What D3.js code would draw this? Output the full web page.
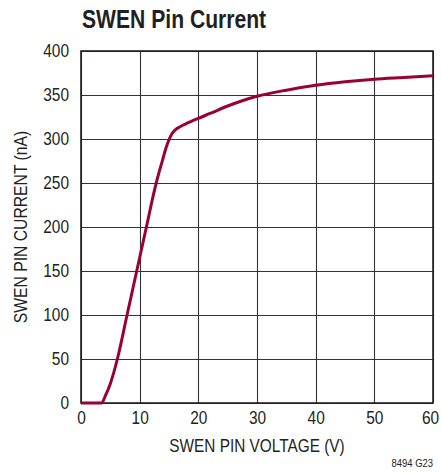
<!DOCTYPE html>
<html>
<head>
<meta charset="utf-8">
<script src="https://cdn.jsdelivr.net/npm/d3@7"></script>
<style>
  html, body { margin: 0; padding: 0; background: #fff; }
  svg { display: block; }
  text { font-family: "Liberation Sans", Arial, Helvetica, sans-serif; fill: #231f20; }
</style>
</head>
<body>
<svg id="chart" width="441" height="473"></svg>
<script>
// Data
const voltage = [0, 3.5, 4.2, 5, 6.2, 7.85, 9.5, 11.15, 12.6, 13.3, 13.9, 14.5, 15.05, 15.5, 16, 16.9, 17.8, 20, 22, 25, 27.5, 30, 35, 40, 45, 50, 55, 60];
const current = [0, 0, 9, 22, 50, 100, 150, 200, 244, 262, 276, 290, 300, 306, 310, 314, 317, 323.5, 329, 337.5, 343.5, 348.5, 355.5, 361, 365, 368, 370, 372];
const xTicks = [0, 10, 20, 30, 40, 50, 60];
const yTicks = [0, 50, 100, 150, 200, 250, 300, 350, 400];
const titleText = "SWEN Pin Current";
const xTitle = "SWEN PIN VOLTAGE (V)";
const yTitle = "SWEN PIN CURRENT (nA)";
const noteText = "8494 G23";

const svg = d3.select("#chart");
const L = 81, R = 433, T = 51, B = 403;
const SX = 0.86; // horizontal condensing to mimic a condensed face

const x = d3.scaleLinear().domain([0, 60]).range([L, R]);
const y = d3.scaleLinear().domain([0, 400]).range([B, T]);

// grid
const grid = svg.append("g");
grid.selectAll("line.v").data(xTicks).join("line")
  .attr("x1", d => Math.round(x(d)) + 0.5).attr("x2", d => Math.round(x(d)) + 0.5)
  .attr("y1", T).attr("y2", B)
  .attr("stroke", "#333").attr("stroke-width", 1.1);
grid.selectAll("line.h").data(yTicks).join("line")
  .attr("y1", d => Math.round(y(d)) + 0.5).attr("y2", d => Math.round(y(d)) + 0.5)
  .attr("x1", L).attr("x2", R)
  .attr("stroke", "#333").attr("stroke-width", 1.1);

// frame
svg.append("rect")
  .attr("x", L).attr("y", T).attr("width", R - L).attr("height", B - T)
  .attr("fill", "none").attr("stroke", "#231f20").attr("stroke-width", 1.6);

// axes (labels only)
const xAxis = d3.axisBottom(x).tickValues(xTicks).tickSize(0).tickPadding(8);
const gx = svg.append("g").attr("transform", `translate(0,${B})`).call(xAxis);
gx.select(".domain").remove();
gx.selectAll("text")
  .attr("font-size", 18).attr("fill", "#231f20")
  .style("font-family", '"Liberation Sans", Arial, sans-serif')
  .attr("transform", d => `translate(${d === 60 ? -3 : 0},0) scale(${SX},1)`);

const yAxis = d3.axisLeft(y).tickValues(yTicks).tickSize(0).tickPadding(0);
const gy = svg.append("g").attr("transform", `translate(${L},0)`).call(yAxis);
gy.select(".domain").remove();
gy.selectAll("text")
  .attr("x", 0)
  .attr("font-size", 18).attr("fill", "#231f20")
  .style("font-family", '"Liberation Sans", Arial, sans-serif')
  .attr("transform", `translate(-12,0) scale(${SX},1)`);

// curve
const pts = voltage.map((v, i) => [v, current[i]]);
svg.append("path")
  .datum(pts)
  .attr("fill", "none")
  .attr("stroke", "#9b0032")
  .attr("stroke-width", 3)
  .attr("stroke-linejoin", "round")
  .attr("d", d3.line().x(d => x(d[0])).y(d => y(d[1])).curve(d3.curveMonotoneX));

// titles
svg.append("text")
  .attr("transform", `translate(82,28) scale(0.845,1)`)
  .attr("font-size", 25).attr("font-weight", "bold").text(titleText);

svg.append("text")
  .attr("transform", `translate(${(L + R) / 2},452) scale(0.855,1)`)
  .attr("text-anchor", "middle").attr("font-size", 18).text(xTitle);

svg.append("text")
  .attr("transform", `translate(26.5,${(T + B) / 2}) rotate(-90) scale(0.873,1)`)
  .attr("text-anchor", "middle").attr("font-size", 18).text(yTitle);

svg.append("text")
  .attr("transform", `translate(433,467) scale(0.9,1)`)
  .attr("text-anchor", "end").attr("font-size", 10.5).text(noteText);
</script>
</body>
</html>
